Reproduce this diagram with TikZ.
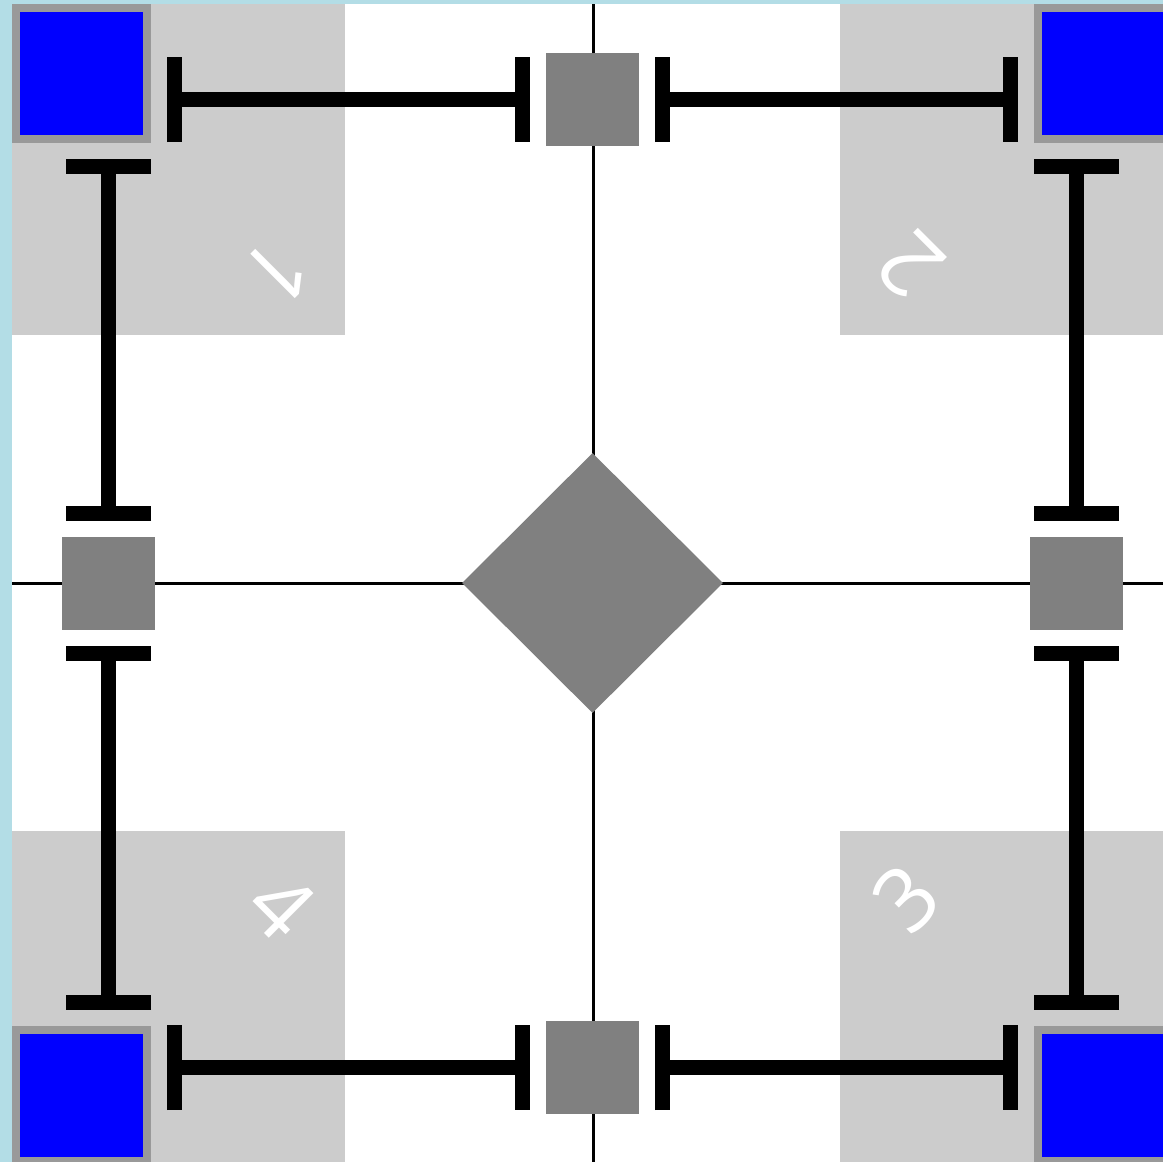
\documentclass[tikz,border=0pt]{standalone}
\usepackage{fontspec}
\setmainfont{Open Sans}
\usetikzlibrary{arrows.meta,shapes.geometric}
\definecolor{bgblue}{HTML}{B3DDE6}
\definecolor{zonegray}{HTML}{CCCCCC}
\definecolor{midgray}{HTML}{808080}
\definecolor{rimgray}{HTML}{999999}
\begin{document}
\begin{tikzpicture}[x=1pt,y=-1pt,
  zone/.style={fill=zonegray},
  axisline/.style={line width=3pt,black},
  corner/.style={rectangle,fill=blue,draw=rimgray,line width=8pt,minimum size=131pt,inner sep=0pt},
  midbox/.style={rectangle,fill=midgray,minimum size=93pt,inner sep=0pt},
  hub/.style={diamond,fill=midgray,minimum width=261pt,minimum height=260pt,inner sep=0pt},
  conn/.style={line width=15pt,{Bar[width=85pt]}-{Bar[width=85pt]},shorten <=16pt,shorten >=16pt},
  zonelabel/.style={text=white,font=\fontsize{88}{88}\selectfont,inner sep=0pt}]
\useasboundingbox (0,0) rectangle (1163,1162);
\begin{scope}
\clip (0,0) rectangle (1163,1162);
\fill[bgblue] (0,0) rectangle (1163,1162);
\fill[white] (12,4) rectangle (1175,1175);
\fill[zone] (12,4) rectangle (345,335);
\fill[zone] (840,4) rectangle (1175,335);
\fill[zone] (12,831) rectangle (345,1175);
\fill[zone] (840,831) rectangle (1175,1175);
\draw[axisline] (12,583) -- (1175,583);
\draw[axisline] (593,4) -- (593,1175);
\node[hub] (c) at (592.5,583) {};
\node[midbox] (tm) at (592.5,99.5) {};
\node[midbox] (bm) at (592.5,1067.5) {};
\node[midbox] (lm) at (108.5,583.5) {};
\node[midbox] (rm) at (1076.5,583.5) {};
\node[corner] (tl) at (81.5,73) {};
\node[corner] (tr) at (1103.5,73) {};
\node[corner] (bl) at (81.5,1095) {};
\node[corner] (br) at (1103.5,1095) {};
\draw[conn] (tl.east |- tm.center) -- (tm.west);
\draw[conn] (tm.east) -- (tr.west |- tm.center);
\draw[conn] (bl.east |- bm.center) -- (bm.west);
\draw[conn] (bm.east) -- (br.west |- bm.center);
\draw[conn] (tl.south -| lm.center) -- (lm.north);
\draw[conn] (lm.south) -- (bl.north -| lm.center);
\draw[conn] (tr.south -| rm.center) -- (rm.north);
\draw[conn] (rm.south) -- (br.north -| rm.center);
\node[zonelabel,rotate=225] (l1) at (277,272) {1};
\node[zonelabel,rotate=135] (l2) at (910,265) {2};
\node[zonelabel,rotate=45] (l3) at (906,898) {3};
\node[zonelabel,rotate=-45] (l4) at (282,906) {4};
\end{scope}
\end{tikzpicture}
\end{document}
